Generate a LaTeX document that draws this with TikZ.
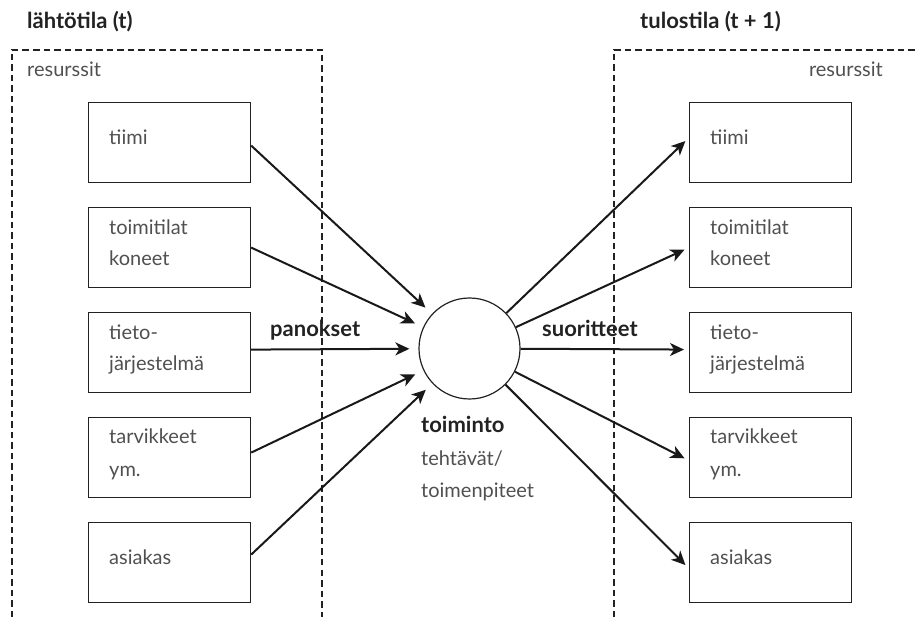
\documentclass[tikz,border=0pt]{standalone}
\usepackage{fontspec}
\setmainfont{Lato}
\usetikzlibrary{arrows.meta}
\definecolor{txtgray}{HTML}{505050}
\definecolor{ink}{HTML}{222222}
\tikzset{
  resbox/.style={draw=ink, line width=1.2pt, minimum width=162pt, minimum height=80pt,
                 inner sep=0pt, anchor=north west},
  boxtxt/.style={anchor=base west, inner sep=0pt, text=txtgray, font=\fontsize{20}{20}\selectfont},
  lbl/.style={anchor=base west, inner sep=0pt, text=ink, font=\fontsize{22}{22}\selectfont\bfseries},
  frame/.style={dashed, dash pattern=on 6.5pt off 4pt, line width=1.3pt, draw=ink},
  arr/.style={line width=2pt, draw=black!90, -{Stealth[length=14pt,width=13pt,inset=4pt]}},
}
\begin{document}
\begin{tikzpicture}[x=1pt,y=-1pt]
\useasboundingbox (0,0) rectangle (916,617);

% dashed resource frames (open at the bottom)
\draw[frame] (12,617) -- (12,50) -- (322,50) -- (322,617);
\draw[frame] (614,617) -- (614,50) -- (916,50);

% headings
\node[lbl] (hleft) at (27,29) {lähtötila (t)};
\node[lbl] (hright) at (640,29) {tulostila (t + 1)};
\node[boxtxt] (resL) at (27,77) {resurssit};
\node[boxtxt, anchor=base east] (resR) at (883,77) {resurssit};

% left resource boxes
\node[resbox] (L1) at (88,102) {};
\node[resbox] (L2) at (88,207) {};
\node[resbox] (L3) at (88,312) {};
\node[resbox] (L4) at (88,417) {};
\node[resbox] (L5) at (88,522) {};
% right resource boxes
\node[resbox] (R1) at (689,102) {};
\node[resbox] (R2) at (689,207) {};
\node[resbox] (R3) at (689,312) {};
\node[resbox] (R4) at (689,417) {};
\node[resbox] (R5) at (689,522) {};

% box texts
\foreach \s in {L,R}{
  \node[boxtxt] (\s1a) at ([xshift=21pt,yshift=-43pt]\s1.north west) {tiimi};
  \node[boxtxt] (\s2a) at ([xshift=21pt,yshift=-28pt]\s2.north west) {toimitilat};
  \node[boxtxt] (\s2b) at ([xshift=21pt,yshift=-59pt]\s2.north west) {koneet};
  \node[boxtxt] (\s3a) at ([xshift=21pt,yshift=-28pt]\s3.north west) {tieto-};
  \node[boxtxt] (\s3b) at ([xshift=21pt,yshift=-59pt]\s3.north west) {järjestelmä};
  \node[boxtxt] (\s4a) at ([xshift=21pt,yshift=-27pt]\s4.north west) {tarvikkeet};
  \node[boxtxt] (\s4b) at ([xshift=21pt,yshift=-59pt]\s4.north west) {ym.};
  \node[boxtxt] (\s5a) at ([xshift=21pt,yshift=-42pt]\s5.north west) {asiakas};
}

% activity circle
\node[circle, draw=ink, line width=1.2pt, minimum size=101pt, inner sep=0pt] (c) at (469.5,348.5) {};

% labels
\node[lbl] (pan) at (270,337) {panokset};
\node[lbl] (suo) at (542,337) {suoritteet};
\node[lbl] (toi) at (421,433) {toiminto};
\node[boxtxt] (teh) at (421,466) {tehtävät/};
\node[boxtxt] (tmp) at (421,497) {toimenpiteet};

% inputs
\draw[arr, shorten >=9pt] ([yshift=-3pt]L1.east) -- (c);
\draw[arr, shorten >=9pt] (L2.east) -- (c);
\draw[arr, shorten >=9pt] ([yshift=3pt]L3.east) -- (c);
\draw[arr, shorten >=9pt] ([yshift=5pt]L4.east) -- (c);
\draw[arr, shorten >=9pt] ([yshift=8pt]L5.east) -- (c);
% outputs
\draw[arr, shorten >=5pt] (c) -- ([yshift=5pt]R1.west);
\draw[arr, shorten >=5pt] (c) -- (R2.west);
\draw[arr, shorten >=5pt] (c) -- ([yshift=3pt]R3.west);
\draw[arr, shorten >=5pt] (c) -- ([yshift=-3pt]R4.west);
\draw[arr, shorten >=5pt] (c) -- ([yshift=-6pt]R5.west);
\end{tikzpicture}
\end{document}
